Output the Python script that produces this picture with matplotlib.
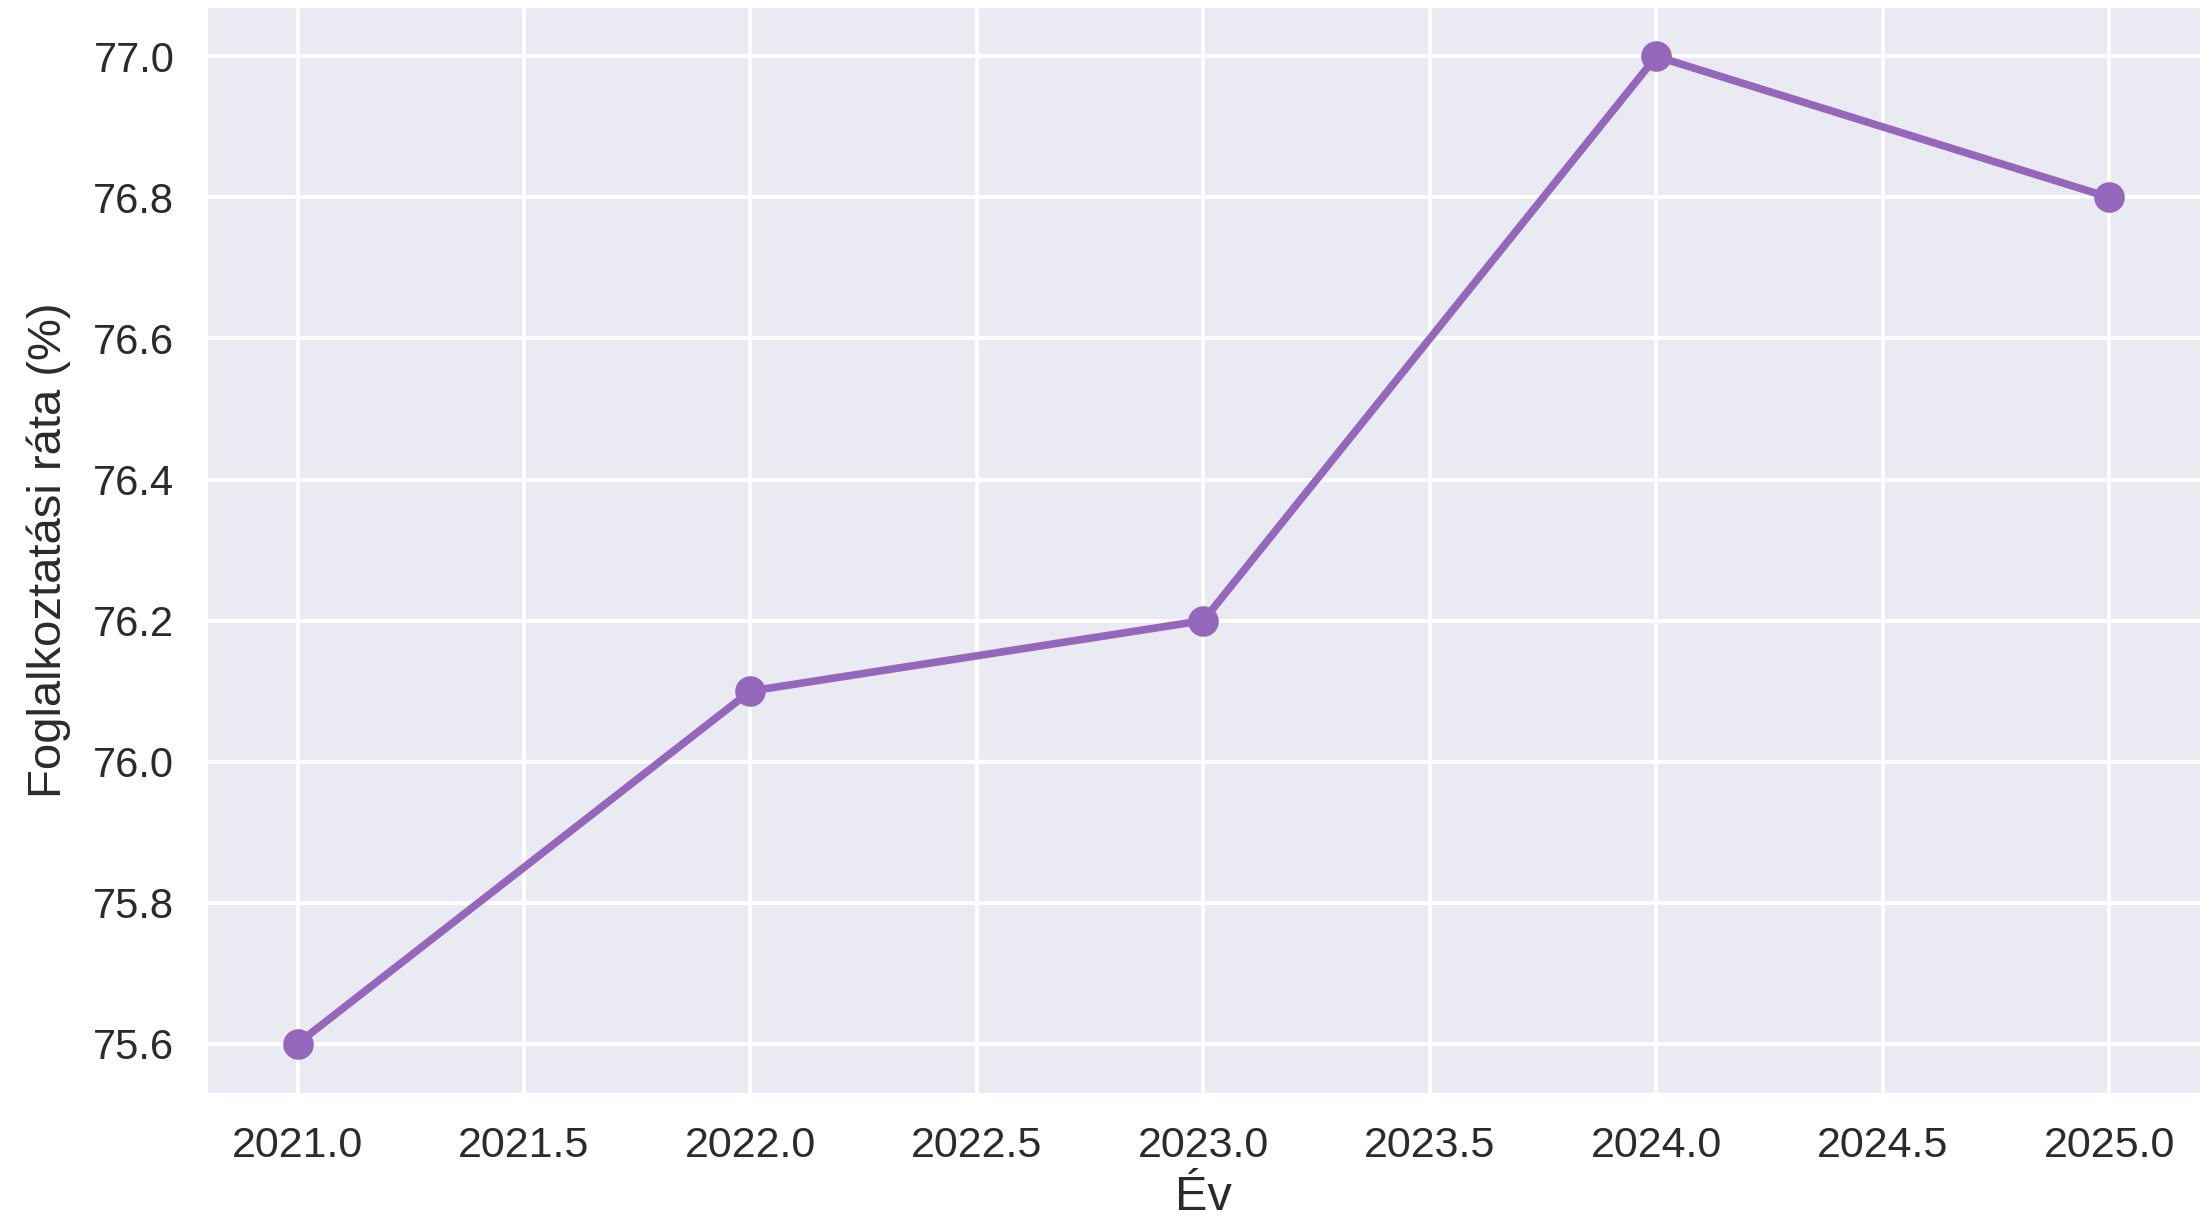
import matplotlib
matplotlib.use("Agg")
import matplotlib.pyplot as plt
import seaborn as sns

# employment rate by year
years = [2021, 2022, 2023, 2024, 2025]
rate = [75.6, 76.1, 76.2, 77.0, 76.8]

sns.set_style("darkgrid")
plt.rcParams['font.family'] = ['Liberation Sans', 'DejaVu Sans']

fig = plt.figure(figsize=(22.11, 12.17), dpi=100)
ax = fig.add_axes([0.0936, 0.1019, 0.9014, 0.8923])

ax.plot(years, rate, color='#9467bd', linewidth=5.5, marker='o', markersize=21)

ax.set_xlabel('Év', fontsize=35, color='#2b2b2b', labelpad=7)
ax.set_ylabel('Foglalkoztatási ráta (%)', fontsize=34, color='#2b2b2b', labelpad=16)
ax.tick_params(axis='y', labelsize=30, colors='#2b2b2b', pad=20)
ax.tick_params(axis='x', labelsize=31, colors='#2b2b2b', pad=20)
ax.grid(linewidth=2.8)

plt.savefig('out.png', dpi=100)
